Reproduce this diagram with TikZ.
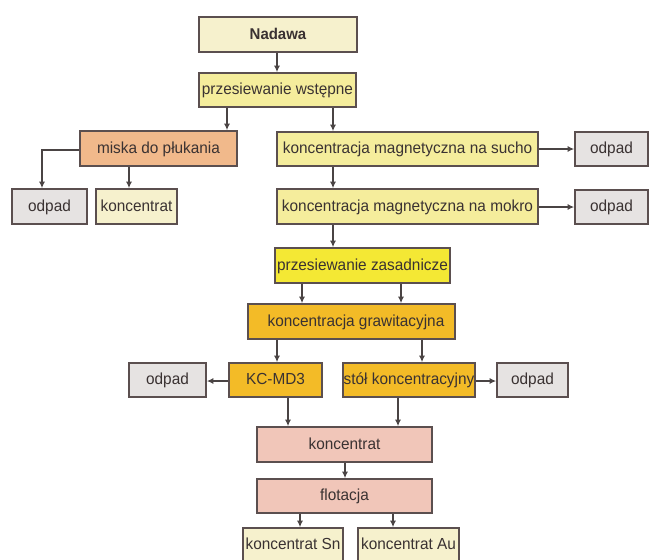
\documentclass[tikz,border=0pt]{standalone}
\usepackage{fontspec}
\setmainfont{Liberation Sans}[FakeStretch=0.96]
\usetikzlibrary{arrows.meta}
\definecolor{bordc}{HTML}{5B4F4F}
\definecolor{arrc}{HTML}{4A4444}
\definecolor{txtc}{HTML}{3A3232}
\definecolor{cream}{HTML}{F6F1CD}
\definecolor{lyel}{HTML}{F5ED9C}
\definecolor{salmon}{HTML}{F1B98B}
\definecolor{greyb}{HTML}{E6E3E2}
\definecolor{byel}{HTML}{F4E834}
\definecolor{gold}{HTML}{F3BB27}
\definecolor{pinkb}{HTML}{F1C6B9}
\tikzset{
  box/.style={draw=bordc, line width=1.6pt, inner sep=0pt, rectangle,
    text=txtc, font=\fontsize{16}{18}\selectfont, text height=12pt, text depth=2.8pt},
  arr/.style={draw=arrc, line width=1.5pt, -{Latex[length=6.5pt,width=6pt]}}
}
\newcommand{\bx}[7]{\node[box,fill=#6,minimum width={(#4-#2)*1pt},minimum height={(#5-#3)*1pt}] (#1) at ({(#2+#4)/2},{(#3+#5)/2}) {\makebox[0pt]{#7}};}
\begin{document}
\begin{tikzpicture}[x=1pt,y=-1pt]
\useasboundingbox (0,0) rectangle (649,560);
\clip (0,0) rectangle (649,560);
\fill[white] (0,0) rectangle (649,560);
\bx{nad}{199}{17}{357}{52}{cream}{\fontsize{15.6}{18}\selectfont\bfseries Nadawa}
\bx{pw}{199}{73}{356}{107}{lyel}{przesiewanie wstępne}
\bx{mk}{80}{131}{237}{166}{salmon}{miska do płukania}
\bx{odA}{12}{189}{87}{224}{greyb}{odpad}
\bx{kl}{96}{189}{177}{224}{cream}{koncentrat}
\bx{ms}{277}{132}{538}{166}{lyel}{koncentracja magnetyczna na sucho}
\bx{odB}{575}{132}{648}{166}{greyb}{odpad}
\bx{mm}{277}{189}{538}{224}{lyel}{koncentracja magnetyczna na mokro}
\bx{odC}{575}{190}{648}{224}{greyb}{odpad}
\bx{pz}{275}{248}{450}{283}{byel}{przesiewanie zasadnicze}
\bx{kg}{248}{304}{455}{339}{gold}{\hspace{9pt}koncentracja grawitacyjna}
\bx{kc}{229}{363}{322}{397}{gold}{KC-MD3}
\bx{odD}{129}{363}{206}{397}{greyb}{odpad}
\bx{st}{343}{363}{475}{397}{gold}{stół koncentracyjny}
\bx{odE}{497}{363}{568}{397}{greyb}{odpad}
\bx{ko}{257}{427}{432}{462}{pinkb}{koncentrat}
\bx{fl}{257}{479}{432}{513}{pinkb}{flotacja}
\bx{ksn}{243}{528}{343}{578}{cream}{\raisebox{8pt}{koncentrat Sn}}
\bx{kau}{358}{528}{459}{578}{cream}{\raisebox{8pt}{koncentrat Au}}
% column / row helper coordinates
\coordinate (c42) at (42,0);
\coordinate (c129) at (129,0);
\coordinate (c227) at (227,0);
\coordinate (c277) at (277,0);
\coordinate (c288) at (288,0);
\coordinate (c300) at (300,0);
\coordinate (c302) at (302,0);
\coordinate (c333) at (333,0);
\coordinate (c345) at (345,0);
\coordinate (c393) at (393,0);
\coordinate (c398) at (398,0);
\coordinate (c401) at (401,0);
\coordinate (c422) at (422,0);
\coordinate (r149) at (0,149);
\coordinate (r150) at (0,150);
\coordinate (r207) at (0,207);
\coordinate (r381) at (0,381);
% connectors
\draw[arr] (c277 |- nad.south) -- (c277 |- pw.north);
\draw[arr] (c227 |- pw.south) -- (c227 |- mk.north);
\draw[arr] (c333 |- pw.south) -- (c333 |- ms.north);
\draw[arr] (r150 -| mk.west) -| (c42 |- odA.north);
\draw[arr] (c129 |- mk.south) -- (c129 |- kl.north);
\draw[arr] (r149 -| ms.east) -- (r149 -| odB.west);
\draw[arr] (c333 |- ms.south) -- (c333 |- mm.north);
\draw[arr] (r207 -| mm.east) -- (r207 -| odC.west);
\draw[arr] (c333 |- mm.south) -- (c333 |- pz.north);
\draw[arr] (c302 |- pz.south) -- (c302 |- kg.north);
\draw[arr] (c401 |- pz.south) -- (c401 |- kg.north);
\draw[arr] (c277 |- kg.south) -- (c277 |- kc.north);
\draw[arr] (c422 |- kg.south) -- (c422 |- st.north);
\draw[arr] (r381 -| kc.west) -- (r381 -| odD.east);
\draw[arr] (r381 -| st.east) -- (r381 -| odE.west);
\draw[arr] (c288 |- kc.south) -- (c288 |- ko.north);
\draw[arr] (c398 |- st.south) -- (c398 |- ko.north);
\draw[arr] (c345 |- ko.south) -- (c345 |- fl.north);
\draw[arr] (c300 |- fl.south) -- (c300 |- ksn.north);
\draw[arr] (c393 |- fl.south) -- (c393 |- kau.north);
\end{tikzpicture}
\end{document}
